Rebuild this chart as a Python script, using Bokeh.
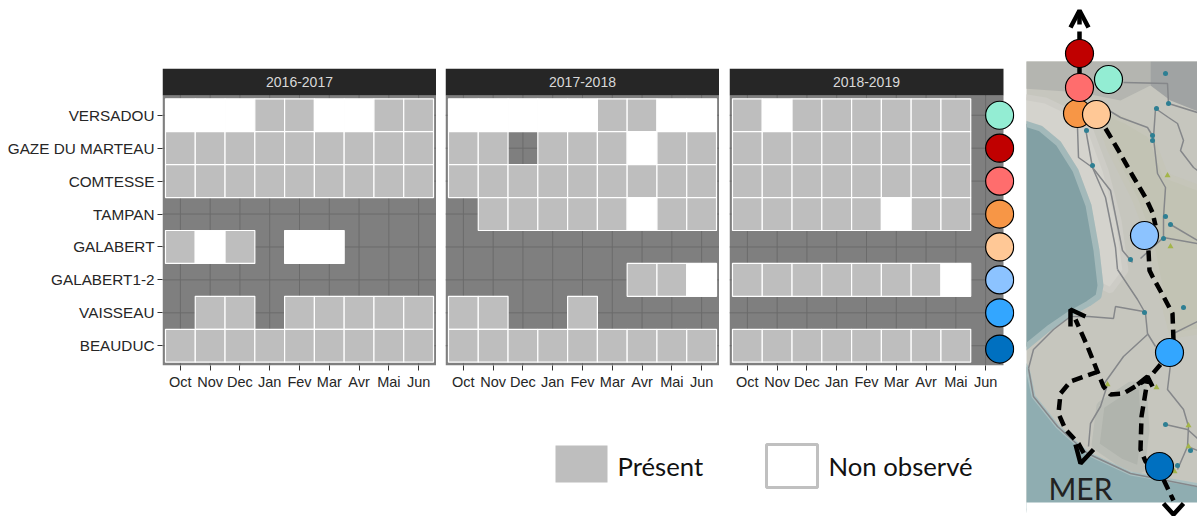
from bokeh.plotting import figure
from bokeh.layouts import row, column
from bokeh.models import FixedTicker, Range1d
from bokeh.core.properties import value
from bokeh.embed import file_html
from bokeh.resources import INLINE

# ---------- chart data ----------
sites = ["VERSADOU", "GAZE DU MARTEAU", "COMTESSE", "TAMPAN", "GALABERT",
         "GALABERT1-2", "VAISSEAU", "BEAUDUC"]
months = ["Oct", "Nov", "Dec", "Jan", "Fev", "Mar", "Avr", "Mai", "Jun"]
seasons = ["2016-2017", "2017-2018", "2018-2019"]
# P = present, N = not observed, . = no survey (one string per site, Oct..Jun)
season_2016 = ["NNNPPNNPP", "PPPPPPPPP", "PPPPPPPPP", ".........",
               "PNP.NN...", ".........", ".PP.PPPPP", "PPPPPPPPP"]
season_2017 = ["NNNNNPPNN", "PP.PPPNPP", "PPPPPPPPP", ".PPPPPNPP",
               ".........", "......PPN", "PP..P....", "PPPPPPPPP"]
season_2018 = ["PNPPPPPP.", "PPPPPPPP.", "PPPPPPPP.", "PPPPPNPP.",
               ".........", "PPPPPPPN.", ".........", "PPPPPPPP."]
site_colors = ["#93EDD3", "#C00000", "#FF6D6D", "#F79646", "#FFC896",
               "#8CC3FF", "#33A6FF", "#0070C0"]
key_rows = [8, 7, 6, 5, 4, 3, 2, 0.9]
legend_labels = ["Présent", "Non observé"]

# ---------- styles ----------
FONT = "Liberation Sans"
PANEL = "#7F7F7F"; GRID = "#6B6B6B"; STRIP = "#262626"; TILE = "#BEBEBE"
XMIN, XMAX, YMIN, YMAX = 0.4, 9.6, 0.4, 8.6
UX = 274 / (XMAX - XMIN)
UY = 270 / (YMAX - YMIN)
STRIP_H = 27 / UY
TOP = YMAX + STRIP_H


def facet(season, rows, width, left, extra=0, right=0, show_y=False):
    xend = XMAX + extra / UX
    p = figure(width=width, height=400, x_range=Range1d(XMIN, xend), y_range=Range1d(YMIN, TOP),
               output_backend="svg", toolbar_location=None,
               min_border_left=left, min_border_right=right, min_border_top=68, min_border_bottom=35,
               background_fill_color="white", border_fill_color="white")
    p.outline_line_color = None
    p.grid.visible = False
    p.quad(left=[XMIN], right=[XMAX], bottom=[YMIN], top=[YMAX], fill_color=PANEL, line_color=None)
    xs = list(range(1, 10)); ys = list(range(1, 9))
    p.segment(x0=xs, x1=xs, y0=[YMIN] * 9, y1=[YMAX] * 9, line_color=GRID, line_width=1)
    p.segment(x0=[XMIN] * 8, x1=[XMAX] * 8, y0=ys, y1=ys, line_color=GRID, line_width=1)
    tx, ty, tc = [], [], []
    for i, r in enumerate(rows):
        for j, c in enumerate(r):
            if c != ".":
                tx.append(j + 1); ty.append(8 - i); tc.append(TILE if c == "P" else "white")
    p.rect(x=tx, y=ty, width=1, height=1, fill_color=tc, line_color="white", line_width=1.2)
    p.quad(left=[XMIN], right=[XMAX], bottom=[YMAX], top=[TOP], fill_color=STRIP, line_color=None)
    p.text(x=[(XMIN + XMAX) / 2], y=[YMAX + STRIP_H / 2], text=[season], text_align="center",
           text_baseline="middle", text_color="#D9D9D9", text_font=value(FONT), text_font_size="14px")
    ax = p.xaxis[0]
    ax.ticker = FixedTicker(ticks=xs)
    ax.major_label_overrides = {i + 1: m for i, m in enumerate(months)}
    ax.axis_line_color = None
    ax.major_tick_line_color = "#333333"
    ax.major_tick_out = 5; ax.major_tick_in = 0; ax.minor_tick_line_color = None
    ax.major_label_text_font = FONT; ax.major_label_text_font_size = "14.5px"
    ax.major_label_text_color = "#262626"; ax.major_label_standoff = 3
    ay = p.yaxis[0]
    if show_y:
        ay.ticker = FixedTicker(ticks=ys)
        ay.major_label_overrides = {8 - i: s for i, s in enumerate(sites)}
        ay.axis_line_color = None
        ay.major_tick_line_color = "#333333"
        ay.major_tick_out = 5; ay.major_tick_in = 0; ay.minor_tick_line_color = None
        ay.major_label_text_font = FONT; ay.major_label_text_font_size = "15.3px"
        ay.major_label_text_color = "#262626"; ay.major_label_standoff = 3
    else:
        ay.visible = False
    return p


f1 = facet(seasons[0], season_2016, 436, 162, show_y=True)
f2 = facet(seasons[1], season_2017, 283, 9)
f3 = facet(seasons[2], season_2018, 307, 10, extra=11, right=12)
f3.scatter(x=[9.47] * 8, y=key_rows, size=28, marker="circle", fill_color=site_colors,
           line_color="black", line_width=1.2)

# ---------- legend ----------
leg = figure(width=1026, height=116, x_range=Range1d(0, 1026), y_range=Range1d(516, 400),
             output_backend="svg", toolbar_location=None, min_border=0,
             border_fill_color="white", background_fill_color="white")
leg.outline_line_color = None; leg.axis.visible = False; leg.grid.visible = False
leg.quad(left=[555], right=[607], top=[445], bottom=[482], fill_color=TILE, line_color=None)
leg.quad(left=[766], right=[817], top=[444], bottom=[487], fill_color="white", line_color="#C0C0C0", line_width=3)
leg.text(x=[617, 828], y=[465, 465], text=legend_labels, text_baseline="middle", text_color="#111111",
         text_font=value("Lato"), text_font_size="25.7px")

# ---------- map ----------
map_box_x = [1020, 1200, 1200, 1020]
map_box_y = [61, 61, 502, 502]
white_foot_y = [502, 502, 520, 520]
sea_bay_x = [1015, 1040, 1058, 1075, 1088, 1096, 1100, 1098, 1088, 1070, 1048, 1015]
sea_bay_y = [120, 128, 143, 170, 205, 250, 285, 296, 303, 313, 328, 355]
sea_low_x = [1015, 1027, 1033, 1057, 1087, 1130, 1205, 1205, 1015]
sea_low_y = [350, 368, 396, 426, 453, 473, 486, 510, 510]
sand_x = [1015, 1045, 1070, 1090, 1105, 1118, 1125, 1110, 1100, 1096, 1088, 1075, 1058, 1040, 1015]
sand_y = [95, 100, 112, 130, 170, 220, 270, 290, 285, 250, 205, 170, 143, 128, 122]
tan_x = [1095, 1125, 1150, 1165, 1205, 1205, 1172, 1160, 1150, 1135, 1110]
tan_y = [108, 120, 135, 175, 190, 330, 335, 290, 240, 200, 150]
dark_top_x = [1150, 1200, 1200, 1170, 1150]
dark_top_y = [61, 61, 112, 100, 85]
mott_x = [1020, 1150, 1150, 1120, 1080, 1020]
mott_y = [61, 61, 85, 100, 92, 88]
inner_x = [1100, 1130, 1142, 1145, 1140, 1120, 1095]
inner_y = [405, 385, 385, 430, 470, 462, 445]
roads = [
    ([1123, 1167, 1168, 1197], [82, 83, 103, 112]),
    ([1155, 1153, 1157, 1165, 1163, 1163], [108, 137, 173, 187, 217, 237]),
    ([1155, 1168, 1177, 1183, 1180, 1193, 1197], [108, 117, 123, 140, 150, 167, 170]),
    ([1092, 1120, 1147, 1153], [100, 117, 127, 137]),
    ([1077, 1078, 1092, 1105, 1115, 1117], [127, 157, 167, 197, 247, 269]),
    ([1085, 1092, 1110, 1116, 1122, 1132], [128, 167, 190, 220, 250, 262]),
    ([1117, 1137, 1145, 1147, 1155], [269, 299, 313, 333, 346]),
    ([1028, 1033, 1053, 1070, 1088, 1113, 1115, 1143], [368, 349, 329, 316, 316, 318, 306, 311]),
    ([1103, 1123, 1147], [384, 356, 334]),
    ([1107, 1100, 1090, 1088], [384, 406, 423, 446]),
    ([1028, 1033, 1057, 1087, 1130, 1197], [368, 396, 426, 453, 473, 486]),
    ([1170, 1167, 1183, 1188, 1187, 1177], [364, 389, 409, 426, 446, 469]),
    ([1165, 1187, 1197], [424, 429, 438]),
    ([1173, 1197], [333, 321]),
    ([1163, 1197], [237, 243]),
    ([1170, 1197], [224, 240]),
    ([1140, 1163], [258, 237]),
    ([1187, 1197], [446, 450]),
]
stations_x = [1165, 1168, 1156, 1152, 1152, 1086, 1092, 1165, 1170, 1163, 1130, 1144, 1183, 1165, 1190, 1177]
stations_y = [73, 103, 108, 135, 140, 130, 165, 216, 224, 238, 259, 312, 307, 424, 450, 465]
tri_x = [1167, 1170, 1107, 1156, 1188, 1188, 1174]
tri_y = [175, 246, 384, 387, 425, 446, 471]
dashed_tracks = [
    ([1105, 1118, 1132, 1145, 1152, 1155], [128, 150, 175, 197, 212, 225]),
    ([1148, 1149, 1152, 1163, 1172, 1173], [250, 270, 276, 296, 313, 340]),
    ([1160, 1148, 1123, 1110, 1103, 1095, 1087, 1075], [364, 378, 393, 394, 386, 366, 346, 319]),
    ([1098, 1070, 1060, 1058, 1065, 1078, 1085], [371, 381, 393, 413, 429, 443, 456]),
    ([1150, 1145, 1140, 1141, 1147], [464, 461, 449, 416, 380]),
    ([1163, 1173], [479, 500]),
]
solid_heads = [
    ([1070, 1079, 1088], [27, 10, 27]),
    ([1079, 1079], [12, 24]),
    ([1079, 1079], [31, 45]),
    ([1079, 1079], [66, 76]),
    ([1070, 1070, 1085], [326, 309, 316]),
    ([1075, 1080, 1093], [444, 463, 449]),
    ([1137, 1147, 1152], [384, 376, 386]),
    ([1163, 1173, 1183], [503, 514, 503]),
]
map_points_x = [1077, 1096, 1079, 1079, 1108, 1144, 1169, 1159]
map_points_y = [113, 114, 53, 87, 79, 235, 352, 466]
map_points_c = ["#F79646", "#FFC896", "#C00000", "#FF6D6D", "#93EDD3", "#8CC3FF", "#33A6FF", "#0070C0"]

m = figure(width=171, height=516, x_range=Range1d(1026, 1197), y_range=Range1d(516, 0),
           output_backend="svg", toolbar_location=None, min_border=0,
           border_fill_color="white", background_fill_color="white")
m.outline_line_color = None; m.axis.visible = False; m.grid.visible = False
m.patch(map_box_x, map_box_y, fill_color="#C6C6BE", line_color=None)
m.patch(mott_x, mott_y, fill_color="#B4B5B0", line_color=None)
m.patch(dark_top_x, dark_top_y, fill_color="#A0A3A3", line_color=None)
m.patch(sand_x, sand_y, fill_color="#D4D3CD", line_color="#CDCCC6", line_width=6)
m.patch(tan_x, tan_y, fill_color="#C2C3B4", line_color="#C5C5B9", line_width=6)
m.patch(inner_x, inner_y, fill_color="#B0B4AD", line_color="#BABDB6", line_width=8)
m.patch(sea_bay_x, sea_bay_y, fill_color="#82A0A4", line_color="#A3B9BA", line_width=6)
m.patch(sea_low_x, sea_low_y, fill_color="#8FADB1", line_color="#A9BFC0", line_width=4)
m.patch(map_box_x, white_foot_y, fill_color="white", line_color=None)
m.multi_line([r[0] for r in roads], [r[1] for r in roads], line_color="#85878A", line_width=1.5)
m.scatter(stations_x, stations_y, size=5, marker="circle", fill_color="#2E7F93", line_color=None)
m.scatter(tri_x, tri_y, size=6, marker="triangle", fill_color="#A3B54A", line_color=None)
m.text(x=[1048], y=[487], text=["MER"], text_baseline="middle", text_color="#222222",
       text_font=value("Lato"), text_font_size="30px")
m.multi_line([t[0] for t in dashed_tracks], [t[1] for t in dashed_tracks], line_color="black",
             line_width=4.5, line_dash="11 6")
m.multi_line([t[0] for t in solid_heads], [t[1] for t in solid_heads], line_color="black", line_width=4.5)
m.scatter(map_points_x, map_points_y, size=28, marker="circle", fill_color=map_points_c,
          line_color="black", line_width=1.2)

page = row(column(row(f1, f2, f3, spacing=0), leg, spacing=0), m, spacing=0)
open("out.html", "w").write(file_html(page, INLINE))
